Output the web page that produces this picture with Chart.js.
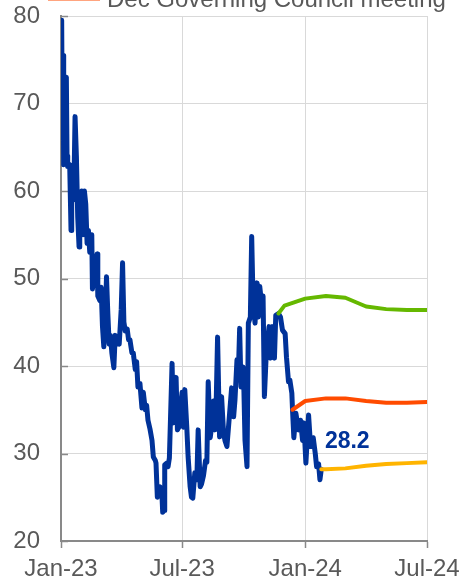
<!DOCTYPE html>
<html>
<head>
<meta charset="utf-8">
<script src="https://cdn.jsdelivr.net/npm/chart.js@4.4.1/dist/chart.umd.min.js"></script>
<style>
  html, body { margin: 0; padding: 0; background: #ffffff; overflow: hidden; }
  #wrap { position: relative; width: 460px; height: 579px; }
</style>
</head>
<body>
<div id="wrap"><canvas id="c" width="460" height="579"></canvas></div>
<script>
// Time axis runs in days counted from this date
const AXIS_START = '2023-01-01';
const xTickDates = ['2023-01-01', '2023-07-01', '2024-01-01', '2024-07-01'];
const xTickLabels = ['Jan-23', 'Jul-23', 'Jan-24', 'Jul-24'];
const yTicks = [20, 30, 40, 50, 60, 70, 80];

const legendLabel = 'Dec Governing Council meeting';

// Observed daily series
const spotDates = [
  '2023-01-02','2023-01-03','2023-01-04','2023-01-05','2023-01-06','2023-01-07','2023-01-09','2023-01-10',
  '2023-01-11','2023-01-14','2023-01-16','2023-01-17','2023-01-20','2023-01-22','2023-01-24','2023-01-26',
  '2023-01-28','2023-01-29','2023-02-01','2023-02-03','2023-02-05','2023-02-07','2023-02-09','2023-02-11',
  '2023-02-13','2023-02-16','2023-02-17','2023-02-19','2023-02-22','2023-02-24','2023-02-25','2023-02-28',
  '2023-03-02','2023-03-04','2023-03-06','2023-03-08','2023-03-10','2023-03-12','2023-03-14','2023-03-16',
  '2023-03-18','2023-03-21','2023-03-23','2023-03-25','2023-03-27','2023-03-29','2023-04-01','2023-04-03',
  '2023-04-05','2023-04-07','2023-04-10','2023-04-12','2023-04-14','2023-04-17','2023-04-19','2023-04-22',
  '2023-04-24','2023-04-26','2023-04-29','2023-05-02','2023-05-04','2023-05-07','2023-05-09','2023-05-11',
  '2023-05-14','2023-05-17','2023-05-19','2023-05-22','2023-05-23','2023-05-25','2023-05-27','2023-05-29',
  '2023-06-01','2023-06-02','2023-06-04','2023-06-05','2023-06-08','2023-06-10','2023-06-12','2023-06-16',
  '2023-06-18','2023-06-20','2023-06-22','2023-06-24','2023-06-26','2023-06-28','2023-07-01','2023-07-03',
  '2023-07-05','2023-07-08','2023-07-10','2023-07-13','2023-07-15','2023-07-17','2023-07-20','2023-07-23',
  '2023-07-25','2023-07-28','2023-07-30','2023-08-02','2023-08-05','2023-08-07','2023-08-09','2023-08-12',
  '2023-08-14','2023-08-17','2023-08-19','2023-08-21','2023-08-23','2023-08-26','2023-08-29','2023-09-01',
  '2023-09-03','2023-09-06','2023-09-10','2023-09-13','2023-09-16','2023-09-18','2023-09-21','2023-09-23',
  '2023-09-25','2023-09-27','2023-09-30','2023-10-01','2023-10-03','2023-10-06','2023-10-08','2023-10-11',
  '2023-10-13','2023-10-15','2023-10-18','2023-10-21','2023-10-23','2023-10-25','2023-10-28','2023-10-30',
  '2023-11-01','2023-11-04','2023-11-08','2023-11-10','2023-11-13','2023-11-16','2023-11-18','2023-11-22',
  '2023-11-25','2023-11-28','2023-12-02','2023-12-04','2023-12-07','2023-12-09','2023-12-12','2023-12-13',
  '2023-12-15','2023-12-18','2023-12-22','2023-12-25','2023-12-28','2023-12-30','2024-01-02','2024-01-06',
  '2024-01-09','2024-01-13','2024-01-16','2024-01-18','2024-01-21','2024-01-23','2024-01-25'
];
const spotValues = [
  79.5, 66.0, 75.5, 63.0, 73.0, 63.5, 73.0, 64.0,
  62.8, 63.0, 55.5, 60.0, 59.0, 68.5, 64.0, 57.0,
  53.6, 58.0, 60.0, 55.0, 60.0, 58.5, 54.0, 55.5,
  53.0, 55.0, 48.8, 50.0, 52.0, 52.8, 48.0, 47.5,
  49.0, 44.5, 42.2, 45.0, 50.2, 46.0, 42.5, 43.5,
  41.5, 39.8, 43.5, 42.5, 43.0, 42.5, 46.5, 51.8,
  45.0, 44.0, 44.2, 43.0, 43.0, 41.5, 41.5, 39.6,
  40.5, 37.6, 38.0, 35.2, 37.0, 35.0, 35.5, 33.8,
  32.8, 31.5, 29.6, 29.2, 28.9, 25.0, 25.8, 26.2,
  25.0, 23.3, 23.5, 28.7, 28.9, 28.5, 29.5, 40.3,
  33.5, 36.0, 38.7, 32.7, 33.0, 35.0, 37.0, 33.0,
  37.3, 33.0, 29.6, 26.2, 25.0, 24.9, 27.8, 27.0,
  32.7, 26.2, 26.5, 27.5, 29.2, 29.0, 38.2, 31.8,
  33.0, 36.0, 32.7, 36.0, 43.3, 31.9, 36.5, 32.3,
  31.5, 30.8, 34.6, 37.5, 34.2, 36.1, 40.7, 39.0,
  44.3, 37.6, 39.9, 38.5, 31.5, 28.5, 44.9, 45.6,
  54.8, 47.5, 44.9, 49.5, 45.6, 49.1, 47.0, 48.0,
  36.5, 41.8, 44.5, 40.9, 44.5, 40.9, 45.8, 46.0,
  45.6, 44.1, 43.7, 41.0, 38.2, 38.4, 36.9, 35.0,
  31.8, 34.6, 32.7, 33.8, 31.5, 33.5, 28.9, 34.4,
  30.8, 31.8, 30.0, 28.5, 28.8, 27.0, 28.2
];

// Forward-looking curves
const curveNovDates = ['2023-11-22','2023-12-01','2024-01-01','2024-02-01','2024-03-01','2024-04-01','2024-05-01','2024-06-01','2024-07-01'];
const curveNovValues = [46.0, 46.9, 47.7, 48.0, 47.8, 46.8, 46.5, 46.4, 46.4];

const curveDecDates = ['2023-12-13','2024-01-01','2024-02-01','2024-03-01','2024-04-01','2024-05-01','2024-06-01','2024-07-01'];
const curveDecValues = [35.0, 36.0, 36.3, 36.3, 36.0, 35.8, 35.8, 35.9];

const curveLatestDates = ['2024-01-25','2024-02-01','2024-03-01','2024-04-01','2024-05-01','2024-06-01','2024-07-01'];
const curveLatestValues = [28.2, 28.2, 28.3, 28.6, 28.8, 28.9, 29.0];

const FONT = "'Liberation Sans', Arial, Helvetica, sans-serif";
const TEXT_GREY = '#595959';
const AXIS_GREY = '#898989';
const GRID_GREY = '#d9d9d9';
const BLUE = '#003299';

const DAY_MS = 86400000;
function dayNum(s) {
  return Math.round((Date.parse(s + 'T00:00:00Z') - Date.parse(AXIS_START + 'T00:00:00Z')) / DAY_MS);
}
function points(dates, values) {
  return dates.map((d, i) => ({ x: dayNum(d), y: values[i] }));
}
const xTickDays = xTickDates.map(dayNum);

// Short tick marks on the inner side of the value axis
const innerYTicks = {
  id: 'innerYTicks',
  beforeDatasetsDraw(chart) {
    const { ctx, scales: { y }, chartArea } = chart;
    ctx.save();
    ctx.strokeStyle = AXIS_GREY;
    ctx.lineWidth = 1.5;
    yTicks.forEach(v => {
      const py = Math.round(y.getPixelForValue(v)) + 0.5;
      ctx.beginPath();
      ctx.moveTo(chartArea.left, py);
      ctx.lineTo(chartArea.left + 7, py);
      ctx.stroke();
    });
    ctx.restore();
  }
};

// Value label next to the last observation
const lastValueLabel = {
  id: 'lastValueLabel',
  afterDatasetsDraw(chart) {
    const meta = chart.getDatasetMeta(0);
    const last = meta.data[meta.data.length - 1];
    const v = spotValues[spotValues.length - 1];
    const { ctx } = chart;
    ctx.save();
    ctx.font = 'bold 23px ' + FONT;
    ctx.fillStyle = BLUE;
    ctx.textAlign = 'center';
    ctx.textBaseline = 'middle';
    ctx.fillText(v.toFixed(1), last.x + 26, last.y - 28);
    ctx.restore();
  }
};

// Legend entry along the top edge
const topLegend = {
  id: 'topLegend',
  afterDraw(chart) {
    const { ctx } = chart;
    ctx.save();
    ctx.strokeStyle = '#FF4B00';
    ctx.lineWidth = 3;
    ctx.beginPath();
    ctx.moveTo(48, -1);
    ctx.lineTo(100, -1);
    ctx.stroke();
    ctx.font = '24px ' + FONT;
    ctx.fillStyle = TEXT_GREY;
    ctx.textAlign = 'left';
    ctx.textBaseline = 'alphabetic';
    ctx.fillText(legendLabel, 107, 6.5);
    ctx.restore();
  }
};

new Chart(document.getElementById('c'), {
  type: 'line',
  data: {
    datasets: [
      {
        label: 'Observed',
        data: points(spotDates, spotValues),
        borderColor: BLUE,
        borderWidth: 5,
        order: 4
      },
      {
        label: 'Nov',
        data: points(curveNovDates, curveNovValues),
        borderColor: '#65B800',
        borderWidth: 4,
        order: 3
      },
      {
        label: legendLabel,
        data: points(curveDecDates, curveDecValues),
        borderColor: '#FF4B00',
        borderWidth: 4,
        order: 2
      },
      {
        label: 'Latest',
        data: points(curveLatestDates, curveLatestValues),
        borderColor: '#FFB400',
        borderWidth: 4,
        order: 1
      }
    ]
  },
  options: {
    responsive: false,
    animation: false,
    layout: { padding: { top: 16, right: 33, left: 0, bottom: 0 } },
    elements: {
      point: { radius: 0, hoverRadius: 0 },
      line: { tension: 0, borderJoinStyle: 'round', borderCapStyle: 'round', fill: false }
    },
    plugins: {
      legend: { display: false },
      tooltip: { enabled: false }
    },
    scales: {
      x: {
        type: 'linear',
        min: xTickDays[0],
        max: xTickDays[xTickDays.length - 1],
        afterBuildTicks: s => { s.ticks = xTickDays.map(v => ({ value: v })); },
        afterFit: s => { s.height = 38; s.paddingLeft = 0; s.paddingRight = 0; },
        ticks: {
          autoSkip: false,
          maxRotation: 0,
          minRotation: 0,
          padding: 7,
          color: TEXT_GREY,
          font: { family: FONT, size: 24 },
          callback: (v, i) => xTickLabels[i]
        },
        grid: { color: GRID_GREY, lineWidth: 1, tickColor: AXIS_GREY, tickLength: 7, tickWidth: 1.5 },
        border: { color: AXIS_GREY, width: 2 }
      },
      y: {
        type: 'linear',
        min: yTicks[0],
        max: yTicks[yTicks.length - 1],
        afterBuildTicks: s => { s.ticks = yTicks.map(v => ({ value: v })); },
        afterFit: s => { s.width = 61; s.paddingTop = 0; s.paddingBottom = 0; },
        ticks: {
          padding: 21,
          color: TEXT_GREY,
          font: { family: FONT, size: 24 },
          callback: v => String(v)
        },
        grid: { color: GRID_GREY, lineWidth: 1, drawTicks: false },
        border: { color: AXIS_GREY, width: 2 }
      }
    }
  },
  plugins: [innerYTicks, lastValueLabel, topLegend]
});
</script>
</body>
</html>
